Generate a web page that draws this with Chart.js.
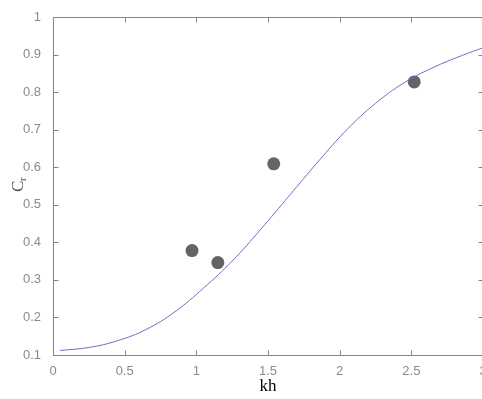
<!DOCTYPE html>
<html>
<head>
<meta charset="utf-8">
<script src="https://cdn.jsdelivr.net/npm/chart.js@4/dist/chart.umd.min.js"></script>
<style>
  html, body { margin: 0; padding: 0; background: #fff; overflow: hidden; }
</style>
</head>
<body>
<canvas id="crChart" width="490" height="399"></canvas>
<script>
// model curve C_r(kh)
const khCurve = [0.05, 0.25, 0.45, 0.65, 0.85, 1.05, 1.25, 1.45, 1.65, 1.85, 2.05, 2.25, 2.45, 2.65, 2.85, 3.0];
const crCurve = [0.112, 0.12, 0.138, 0.168, 0.215, 0.278, 0.35, 0.435, 0.525, 0.615, 0.70, 0.77, 0.825, 0.865, 0.897, 0.918];
// measured points
const khMeasured = [0.97, 1.15, 1.54, 2.52];
const crMeasured = [0.378, 0.346, 0.609, 0.827];
const xTicks = [0, 0.5, 1, 1.5, 2, 2.5, 3];
const yTicks = [0.1, 0.2, 0.3, 0.4, 0.5, 0.6, 0.7, 0.8, 0.9, 1];

const boxAndTicks = {
  id: 'boxAndTicks',
  afterDraw(chart) {
    const ctx = chart.ctx;
    const a = chart.chartArea;
    const xs = chart.scales.x, ys = chart.scales.y;
    const L = Math.round(a.left) + 0.5, R = Math.round(a.right) + 0.5;
    const T = Math.round(a.top) + 0.5, B = Math.round(a.bottom) + 0.5;
    ctx.save();
    ctx.strokeStyle = '#858585';
    ctx.lineWidth = 1;
    ctx.strokeRect(L, T, R - L, B - T);
    ctx.beginPath();
    xTicks.forEach(v => {
      const px = Math.round(xs.getPixelForValue(v)) + 0.5;
      ctx.moveTo(px, B); ctx.lineTo(px, B - 5);
      ctx.moveTo(px, T); ctx.lineTo(px, T + 5);
    });
    yTicks.forEach(v => {
      const py = Math.round(ys.getPixelForValue(v)) + 0.5;
      ctx.moveTo(L, py); ctx.lineTo(L + 5, py);
      ctx.moveTo(R, py); ctx.lineTo(R - 5, py);
    });
    ctx.stroke();

    // y title: C with subscript r, rotated
    ctx.translate(17, 186);
    ctx.rotate(-Math.PI / 2);
    ctx.fillStyle = '#555';
    ctx.textBaseline = 'alphabetic';
    ctx.font = '17px "Liberation Serif", "Times New Roman", serif';
    ctx.fillText('C', -6, 6);
    ctx.font = '11px "Liberation Serif", "Times New Roman", serif';
    ctx.fillText('r', 5, 9);
    ctx.restore();
  }
};

const tickFont = { family: 'Arial, "Liberation Sans", sans-serif', size: 13 };

new Chart(document.getElementById('crChart'), {
  type: 'scatter',
  data: {
    datasets: [
      {
        type: 'line',
        data: khCurve.map((x, i) => ({ x: x, y: crCurve[i] })),
        borderColor: '#6e6ec8',
        borderWidth: 1,
        pointRadius: 0,
        fill: false,
        tension: 0.4
      },
      {
        data: khMeasured.map((x, i) => ({ x: x, y: crMeasured[i] })),
        backgroundColor: '#646464',
        borderColor: '#646464',
        borderWidth: 0,
        pointRadius: 6.5,
        pointHoverRadius: 6.5
      }
    ]
  },
  options: {
    responsive: false,
    animation: false,
    layout: { padding: { left: 0, right: 7, top: 17, bottom: 0 } },
    plugins: { legend: { display: false }, tooltip: { enabled: false } },
    scales: {
      x: {
        type: 'linear',
        min: 0, max: 3,
        afterBuildTicks: s => { s.ticks = xTicks.map(v => ({ value: v })); },
        afterFit: s => { s.height = 44; },
        grid: { display: false },
        border: { display: false },
        ticks: { color: '#8a8a8a', padding: 1, maxRotation: 0, font: tickFont, callback: v => String(v) },
        title: { display: true, text: 'kh', color: '#000', padding: { top: 0, bottom: 2 }, font: { family: '"Liberation Serif", "Times New Roman", serif', size: 17 } }
      },
      y: {
        min: 0.1, max: 1,
        afterBuildTicks: s => { s.ticks = yTicks.map(v => ({ value: v })); },
        afterFit: s => { s.width = 53; },
        grid: { display: false },
        border: { display: false },
        ticks: { color: '#8a8a8a', padding: 4, font: tickFont, callback: v => String(v) }
      }
    }
  },
  plugins: [boxAndTicks]
});
</script>
</body>
</html>
